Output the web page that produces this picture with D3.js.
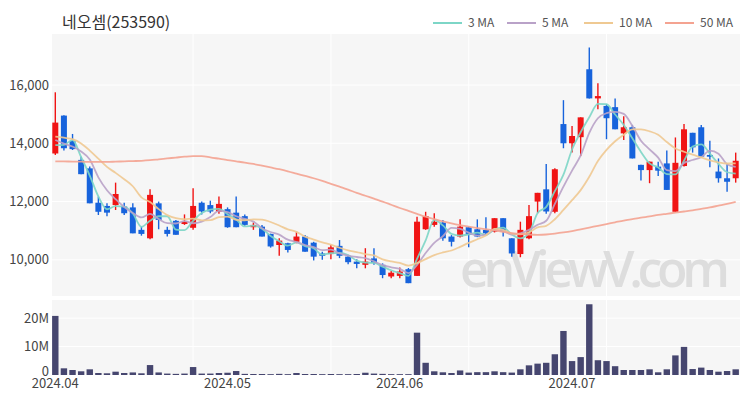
<!DOCTYPE html>
<html>
<head>
<meta charset="utf-8">
<script src="https://cdn.jsdelivr.net/npm/d3@7"></script>
<style>
body { margin: 0; background: #fff; }
text { font-family: "Noto Sans CJK KR", "Noto Sans", sans-serif; }
</style>
</head>
<body>
<script>
//daily candles, oldest first
var opens  = [13650,14950,14080,13430,13140,11960,11850,11880,11830,11800,11030,10740,11940,11030,11340,11230,11100,11960,11880,11650,
              11740,11620,11500,11120,11140,10890,10510,10570,10620,10800,10590,10220,10200,10480,10110,9940,9830,10050,9830,9430,
              9450,9680,9450,11050,11200,11280,10800,10800,11120,11050,11030,10970,11430,10740,10200,10740,12000,12420,11650,14660,
              14000,14210,16540,15540,15280,15240,14340,14550,13260,13080,13200,13310,11650,13220,14360,14550,13600,13030,12800,12800];
var highs  = [15750,14960,14320,13540,13200,12170,11940,12650,11960,11940,11140,12420,12000,11140,11370,11560,12460,12000,12030,12170,
              11800,12170,11560,11280,11200,10900,10740,10590,10970,10850,10620,10280,10510,10680,10140,10020,10400,10400,9880,9620,
              9740,9720,11480,11650,11600,11370,10850,11390,11140,11390,11460,11430,11430,10740,11310,11880,12300,13290,13140,15480,
              14590,14890,17290,16060,15350,15540,14930,14630,13260,13370,13370,13750,14200,14660,14360,14630,14090,13480,13310,13680];
var lows   = [13600,13750,13770,12940,11940,11540,11500,11710,11540,10910,10830,10710,11050,10800,10860,11200,11030,11560,11600,11580,
              11100,11120,11170,11030,10800,10420,10140,10250,10570,10280,9980,10000,10020,10060,9850,9710,9710,9830,9370,9370,
              9370,9200,9450,11030,11140,10660,10460,10770,10430,10780,10890,10940,10800,10110,10090,10710,11600,11580,11600,13830,
              13680,13560,15540,15170,14140,14480,14110,13480,12720,12630,12880,12400,11650,13200,13680,13540,13180,12650,12340,12650];
var closes = [14710,13830,13800,12940,11940,11650,11620,12260,11600,10910,10890,12230,11370,10890,10860,11310,11850,11660,11660,11920,
              11120,11120,11200,11200,10800,10460,10660,10340,10800,10280,10110,10140,10430,10140,9920,9860,9940,9890,9480,9560,
              9600,9200,11310,11500,11310,10740,10620,11140,10860,10800,10910,11430,10970,10220,11030,11500,12300,11660,13110,14000,
              14250,14890,15540,15620,14860,14480,14550,13480,13080,13370,13060,12400,13330,14480,13860,13540,13540,12800,12680,13400];
//closes before the first shown day, only used to start the short averages
var priorCloses = [14200,14300,14400,14400,14420,14450,14300,13800,13300];
//volume in millions of shares
var volumes = [20.8,2.35,1.76,1.3,2.0,0.7,0.6,1.17,0.7,0.9,0.6,3.5,0.9,0.5,0.4,0.5,2.8,0.5,0.5,0.7,
               0.8,1.4,0.4,0.35,0.35,0.3,0.4,0.3,0.7,0.35,0.35,0.3,0.35,0.3,0.3,0.35,0.8,0.5,0.4,0.3,
               0.3,0.3,14.9,4.3,1.3,0.95,0.7,1.6,0.85,1.0,1.0,1.3,1.0,0.85,2.0,3.4,4.0,4.3,7.3,15.5,
               4.9,6.3,24.9,5.2,4.9,3.1,1.76,1.76,1.76,2.0,0.95,2.0,6.9,9.9,2.1,2.6,1.76,1.17,1.4,2.0];
//50 day average as drawn on the chart
var ma50 = [13380,13380,13370,13370,13360,13360,13360,13370,13380,13390,13400,13420,13450,13480,13510,13540,13560,13560,13520,13470,
            13420,13380,13340,13290,13230,13170,13110,13040,12960,12880,12800,12710,12610,12510,12410,12300,12200,12100,12000,11890,
            11780,11680,11580,11480,11400,11320,11250,11190,11140,11090,11050,11010,10960,10920,10890,10870,10860,10870,10900,10940,
            10990,11050,11110,11170,11230,11290,11350,11400,11450,11490,11540,11580,11620,11660,11700,11750,11800,11860,11920,11990];

var xTickIdx = [0, 20, 40, 60];
var xTickLabels = ["2024.04", "2024.05", "2024.06", "2024.07"];
var xGridIdx = [16, 32, 48, 64];
var priceTicks = [10000, 12000, 14000, 16000];
var volTicks = [0, 10, 20];

var maNames = ["3 MA", "5 MA", "10 MA", "50 MA"];
var maColors = ["#7dd6c7", "#b9a2c8", "#efc992", "#f4a391"];

var width = 750, height = 400;
var left = 52, right = 740;
var pTop = 34, pBottom = 296, vTop = 300, vBottom = 375;
var upColor = "#f01414", downColor = "#1763dc";

var svg = d3.select("body").append("svg")
    .attr("width", width)
    .attr("height", height);

var n = closes.length;
var x = d3.scaleBand().domain(d3.range(n)).range([51, right]);
var xc = function(i){ return x(i) + x.bandwidth() / 2; };
var y = d3.scaleLinear().domain([8760, 17750]).range([pBottom, pTop]);
var yv = d3.scaleLinear().domain([0, 26.4]).range([vBottom, vTop]);

//moving averages from closes
function movingAvg(k){
    var all = priorCloses.concat(closes);
    var off = priorCloses.length;
    return closes.map(function(c, i){
        return d3.mean(all.slice(off + i - k + 1, off + i + 1));
    });
}
var maSeries = [movingAvg(3), movingAvg(5), movingAvg(10), ma50];

//panel backgrounds
svg.append("rect").attr("x", left).attr("y", pTop)
    .attr("width", right - left).attr("height", pBottom - pTop).attr("fill", "#f6f6f6");
svg.append("rect").attr("x", left).attr("y", vTop)
    .attr("width", right - left).attr("height", vBottom - vTop).attr("fill", "#f6f6f6");

//grid lines
svg.append("g").selectAll("line").data(priceTicks).enter().append("line")
    .attr("x1", left).attr("x2", right)
    .attr("y1", function(d){ return y(d); }).attr("y2", function(d){ return y(d); })
    .attr("stroke", "#fff").attr("stroke-width", 1);
svg.append("g").selectAll("line").data(volTicks).enter().append("line")
    .attr("x1", left).attr("x2", right)
    .attr("y1", function(d){ return yv(d); }).attr("y2", function(d){ return yv(d); })
    .attr("stroke", "#fff").attr("stroke-width", 1);
[[pTop, pBottom], [vTop, vBottom]].forEach(function(p){
    svg.append("g").selectAll("line").data(xGridIdx).enter().append("line")
        .attr("x1", function(d){ return xc(d); }).attr("x2", function(d){ return xc(d); })
        .attr("y1", p[0]).attr("y2", p[1])
        .attr("stroke", "#fff").attr("stroke-width", 1);
});

//watermark
svg.append("text")
    .attr("x", 460).attr("y", 287)
    .attr("textLength", 270)
    .attr("font-size", 50)
    .attr("font-weight", 600)
    .attr("fill", "#dddddd")
    .style("font-family", "'Open Sans', sans-serif")
    .text("enViewV.com");

//candles
var candles = svg.append("g").selectAll("g").data(closes).enter().append("g");
candles.append("line")
    .attr("x1", function(d, i){ return xc(i); })
    .attr("x2", function(d, i){ return xc(i); })
    .attr("y1", function(d, i){ return y(highs[i]); })
    .attr("y2", function(d, i){ return y(lows[i]); })
    .attr("stroke", function(d, i){ return d >= opens[i] ? upColor : downColor; })
    .attr("stroke-width", 1.4);
candles.append("rect")
    .attr("x", function(d, i){ return xc(i) - 3; })
    .attr("width", 6)
    .attr("y", function(d, i){ return y(Math.max(d, opens[i])); })
    .attr("height", function(d, i){ return Math.max(1.5, Math.abs(y(d) - y(opens[i]))); })
    .attr("fill", function(d, i){ return d >= opens[i] ? upColor : downColor; });

//moving average lines
var line = d3.line()
    .x(function(d, i){ return xc(i); })
    .y(function(d){ return y(d); })
    .curve(d3.curveMonotoneX);
svg.append("g").selectAll("path").data(maSeries).enter().append("path")
    .attr("d", line)
    .attr("fill", "none")
    .attr("stroke", function(d, i){ return maColors[i]; })
    .attr("stroke-width", 1.8)
    .attr("opacity", 0.9);

//volume bars
svg.append("g").selectAll("rect").data(volumes).enter().append("rect")
    .attr("x", function(d, i){ return xc(i) - 3.2; })
    .attr("width", 6.4)
    .attr("y", function(d){ return yv(d); })
    .attr("height", function(d){ return vBottom - yv(d); })
    .attr("fill", "#46466f");

//axis labels
svg.append("g").selectAll("text").data(priceTicks).enter().append("text")
    .attr("x", 49).attr("y", function(d){ return y(d); })
    .attr("dy", "0.35em")
    .attr("text-anchor", "end")
    .attr("font-size", 13)
    .attr("fill", "#444")
    .text(d3.format(","));
svg.append("g").selectAll("text").data(volTicks).enter().append("text")
    .attr("x", 49).attr("y", function(d){ return yv(d); })
    .attr("dy", function(d){ return d === 0 ? "0.1em" : "0.35em"; })
    .attr("text-anchor", "end")
    .attr("font-size", 13)
    .attr("fill", "#444")
    .text(function(d){ return d === 0 ? "0" : d + "M"; });
svg.append("g").selectAll("text").data(xTickIdx).enter().append("text")
    .attr("x", function(d){ return xc(d); }).attr("y", 388)
    .attr("text-anchor", "middle")
    .attr("font-size", 13)
    .attr("fill", "#444")
    .text(function(d, i){ return xTickLabels[i]; });

//title
svg.append("text")
    .attr("x", 62).attr("y", 28)
    .attr("font-size", 16)
    .attr("fill", "#333")
    .text("네오셈(253590)");

//legend
var legendX = [433, 507, 584, 665];
var legend = svg.append("g").selectAll("g").data(maNames).enter().append("g")
    .attr("transform", function(d, i){ return "translate(" + legendX[i] + ",23)"; });
legend.append("line")
    .attr("x1", 0).attr("x2", 29)
    .attr("stroke", function(d, i){ return maColors[i]; })
    .attr("stroke-width", 2);
legend.append("text")
    .attr("x", 35).attr("dy", "0.35em")
    .attr("font-size", 12)
    .attr("fill", "#555")
    .text(function(d){ return d; });
</script>
</body>
</html>
